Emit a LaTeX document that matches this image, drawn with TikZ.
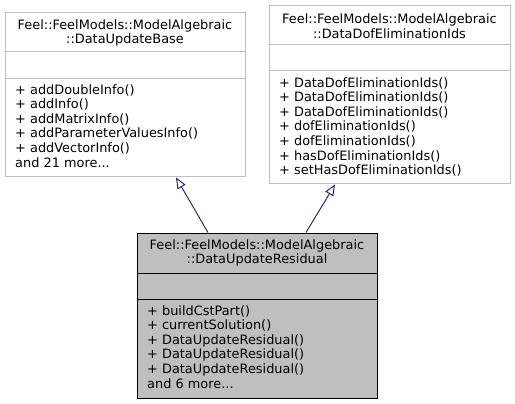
\documentclass[tikz,border=0pt]{standalone}
\usepackage{fontspec}
\setmainfont{DejaVu Sans}
\usetikzlibrary{arrows.meta}
\definecolor{edgeblue}{HTML}{191970}
\definecolor{boxgray}{HTML}{BFBFBF}
\newcommand{\classfont}{\fontsize{12.9}{14.6}\selectfont}

\begin{document}
\begin{tikzpicture}[x=1pt, y=-1pt,
        classbox/.style={draw=boxgray, fill=white, line width=1pt, inner sep=0pt, minimum width=240pt},
        mainbox/.style={classbox, draw=black, fill=boxgray},
        titletext/.style={inner sep=0pt, align=center, font=\classfont},
        membertext/.style={inner sep=0pt, align=left, anchor=north west, font=\classfont},
        inherit/.style={draw=edgeblue, line width=0.9pt, -{Triangle[open, length=11pt, width=9pt]}}]
        \useasboundingbox (0,0) rectangle (515,404);
        % base classes
        \node[classbox, minimum height=164pt] (base) at (125,95) {};
        \draw[boxgray, line width=1pt] (base.west |- 0,52) -- (base.east |- 0,52) (base.west |- 0,79) -- (base.east |- 0,79);
        \node[titletext] (basetitle) at (125,33) {Feel::FeelModels::ModelAlgebraic\\::DataUpdateBase};
        \node[membertext] (basemembers) at (15,84) {+ addDoubleInfo()\\+ addInfo()\\+ addMatrixInfo()\\+ addParameterValuesInfo()\\+ addVectorInfo()\\and 21 more...};

        \node[classbox, minimum width=241pt, minimum height=178pt] (elim) at (389.5,95) {};
        \draw[boxgray, line width=1pt] (elim.west |- 0,45) -- (elim.east |- 0,45) (elim.west |- 0,71) -- (elim.east |- 0,71);
        \node[titletext] (elimtitle) at (389.5,26) {Feel::FeelModels::ModelAlgebraic\\::DataDofEliminationIds};
        \node[membertext] (elimmembers) at (279,77) {+ DataDofEliminationIds()\\+ DataDofEliminationIds()\\+ DataDofEliminationIds()\\+ dofEliminationIds()\\+ dofEliminationIds()\\+ hasDofEliminationIds()\\+ setHasDofEliminationIds()};

        % derived class
        \node[mainbox, minimum height=165pt] (resid) at (257,315.5) {};
        \draw[line width=1pt] (resid.west |- 0,273) -- (resid.east |- 0,273) (resid.west |- 0,299) -- (resid.east |- 0,299);
        \node[titletext] (residtitle) at (257,253) {Feel::FeelModels::ModelAlgebraic\\::DataUpdateResidual};
        \node[membertext] (residmembers) at (147,305) {+ buildCstPart()\\+ currentSolution()\\+ DataUpdateResidual()\\+ DataUpdateResidual()\\+ DataUpdateResidual()\\and 6 more...};

        \draw[inherit] (resid.north -| 208,0) -- (base.south -| 176,0);
        \draw[inherit] (resid.north -| 306,0) -- (elim.south -| 335,0);
    \end{tikzpicture}
\end{document}
